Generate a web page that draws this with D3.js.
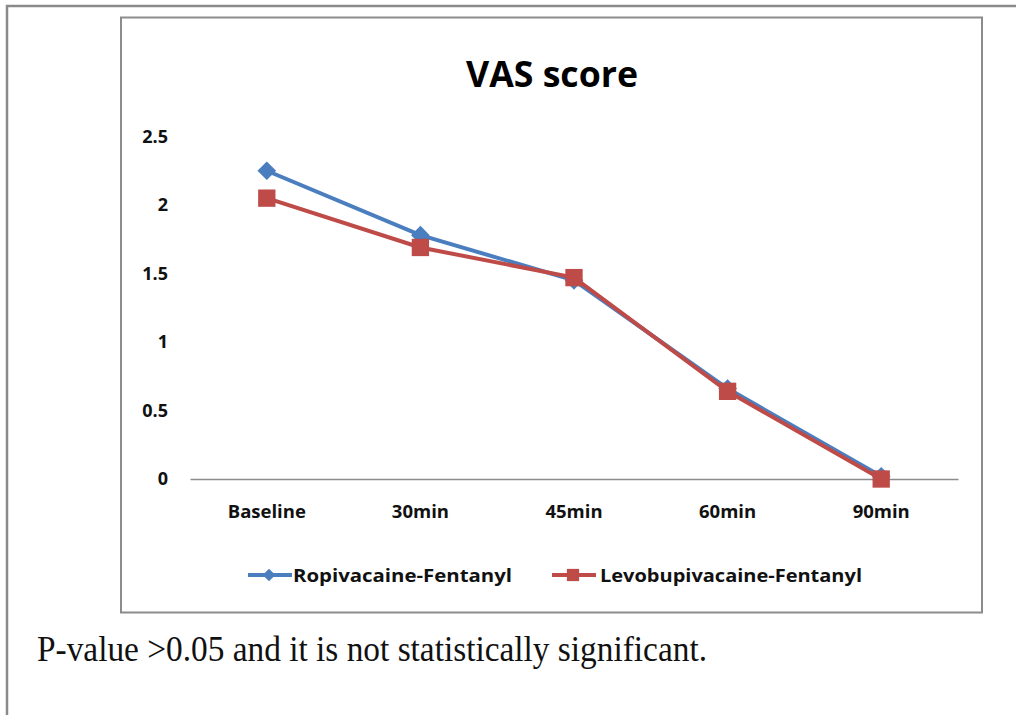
<!DOCTYPE html>
<html><head><meta charset="utf-8">
<script src="https://cdn.jsdelivr.net/npm/d3@7"></script>
<style>body{margin:0;background:#fff}svg{display:block}</style>
</head><body>
<script>
const categories = ["Baseline","30min","45min","60min","90min"];
const ropivacaine = [2.25, 1.78, 1.45, 0.66, 0.02];
const levobupivacaine = [2.05, 1.69, 1.47, 0.64, 0.0];
const yTicks = [0, 0.5, 1, 1.5, 2, 2.5];
const seriesNames = ["Ropivacaine-Fentanyl","Levobupivacaine-Fentanyl"];
const colors = ["#4A7EBF","#BE4B48"];

const W = 1016, H = 715;
const svg = d3.select("body").append("svg").attr("width", W).attr("height", H);

// outer page frame
svg.append("path").attr("d","M7,720 L7,6 L1020,6").attr("fill","none").attr("stroke","#8a8a8a").attr("stroke-width",2.5);
// inner chart box
svg.append("rect").attr("x",121).attr("y",17.5).attr("width",861).attr("height",595)
  .attr("fill","#fff").attr("stroke","#8c8c8c").attr("stroke-width",2);

const x = d3.scaleBand().domain(categories).range([190, 958]);
const y = d3.scaleLinear().domain([0, 2.5]).range([479, 136.5]);

svg.append("text").attr("x",552).attr("y",87).attr("text-anchor","middle")
  .attr("font-family","Open Sans").attr("font-weight","bold").attr("font-size",36)
  .attr("textLength",172).attr("lengthAdjust","spacingAndGlyphs").text("VAS score");

// y axis labels
const ya = svg.append("g").attr("transform","translate(190,0)")
  .call(d3.axisLeft(y).tickValues(yTicks).tickFormat(d3.format("")).tickSize(0).tickPadding(22));
ya.select(".domain").remove();
ya.selectAll("text").attr("font-family","Open Sans").attr("font-weight","bold").attr("font-size",18).attr("fill","#111");

// x axis
const xa = svg.append("g").attr("transform","translate(0,479)")
  .call(d3.axisBottom(x).tickSize(0).tickPadding(26));
xa.select(".domain").attr("stroke","#8c8c8c").attr("stroke-width",1.5);
xa.selectAll("text").attr("font-family","Open Sans").attr("font-weight","bold").attr("font-size",18.5).attr("fill","#111");

const line = d3.line().x((d,i)=>x(categories[i])+x.bandwidth()/2).y(d=>y(d));
const data = [ropivacaine, levobupivacaine];
data.forEach((s,k)=>{
  svg.append("path").datum(s).attr("d",line).attr("fill","none").attr("stroke",colors[k]).attr("stroke-width",4);
});
const sym = [d3.symbol().type(d3.symbolSquare).size(175), d3.symbol().type(d3.symbolSquare).size(300)];
const rot = [45, 0];
data.forEach((s,k)=>{
  svg.append("g").selectAll("path").data(s).join("path")
    .attr("d", sym[k])
    .attr("transform",(d,i)=>`translate(${x(categories[i])+x.bandwidth()/2},${y(d)}) rotate(${rot[k]})`)
    .attr("fill",colors[k]);
});

// legend
const legX = [248, 552], legTx = [293, 600], legW = [219, 262];
const legSym = [d3.symbol().type(d3.symbolSquare).size(80), d3.symbol().type(d3.symbolSquare).size(150)];
seriesNames.forEach((n,k)=>{
  const g = svg.append("g");
  g.append("line").attr("x1",legX[k]).attr("x2",legX[k]+44).attr("y1",575).attr("y2",575).attr("stroke",colors[k]).attr("stroke-width",4);
  g.append("path").attr("d",legSym[k]).attr("transform",`translate(${legX[k]+21},575) rotate(${rot[k]})`).attr("fill",colors[k]);
  g.append("text").attr("x",legTx[k]).attr("y",582).attr("font-family","Open Sans").attr("font-weight","bold").attr("font-size",18.5)
    .attr("textLength",legW[k]).attr("lengthAdjust","spacingAndGlyphs").attr("fill","#111").text(n);
});

svg.append("text").attr("x",37).attr("y",661).attr("font-family","Liberation Serif").attr("font-size",35)
  .attr("textLength",670).attr("lengthAdjust","spacingAndGlyphs").attr("fill","#111")
  .text("P-value >0.05 and it is not statistically significant.");
</script>
</body></html>
